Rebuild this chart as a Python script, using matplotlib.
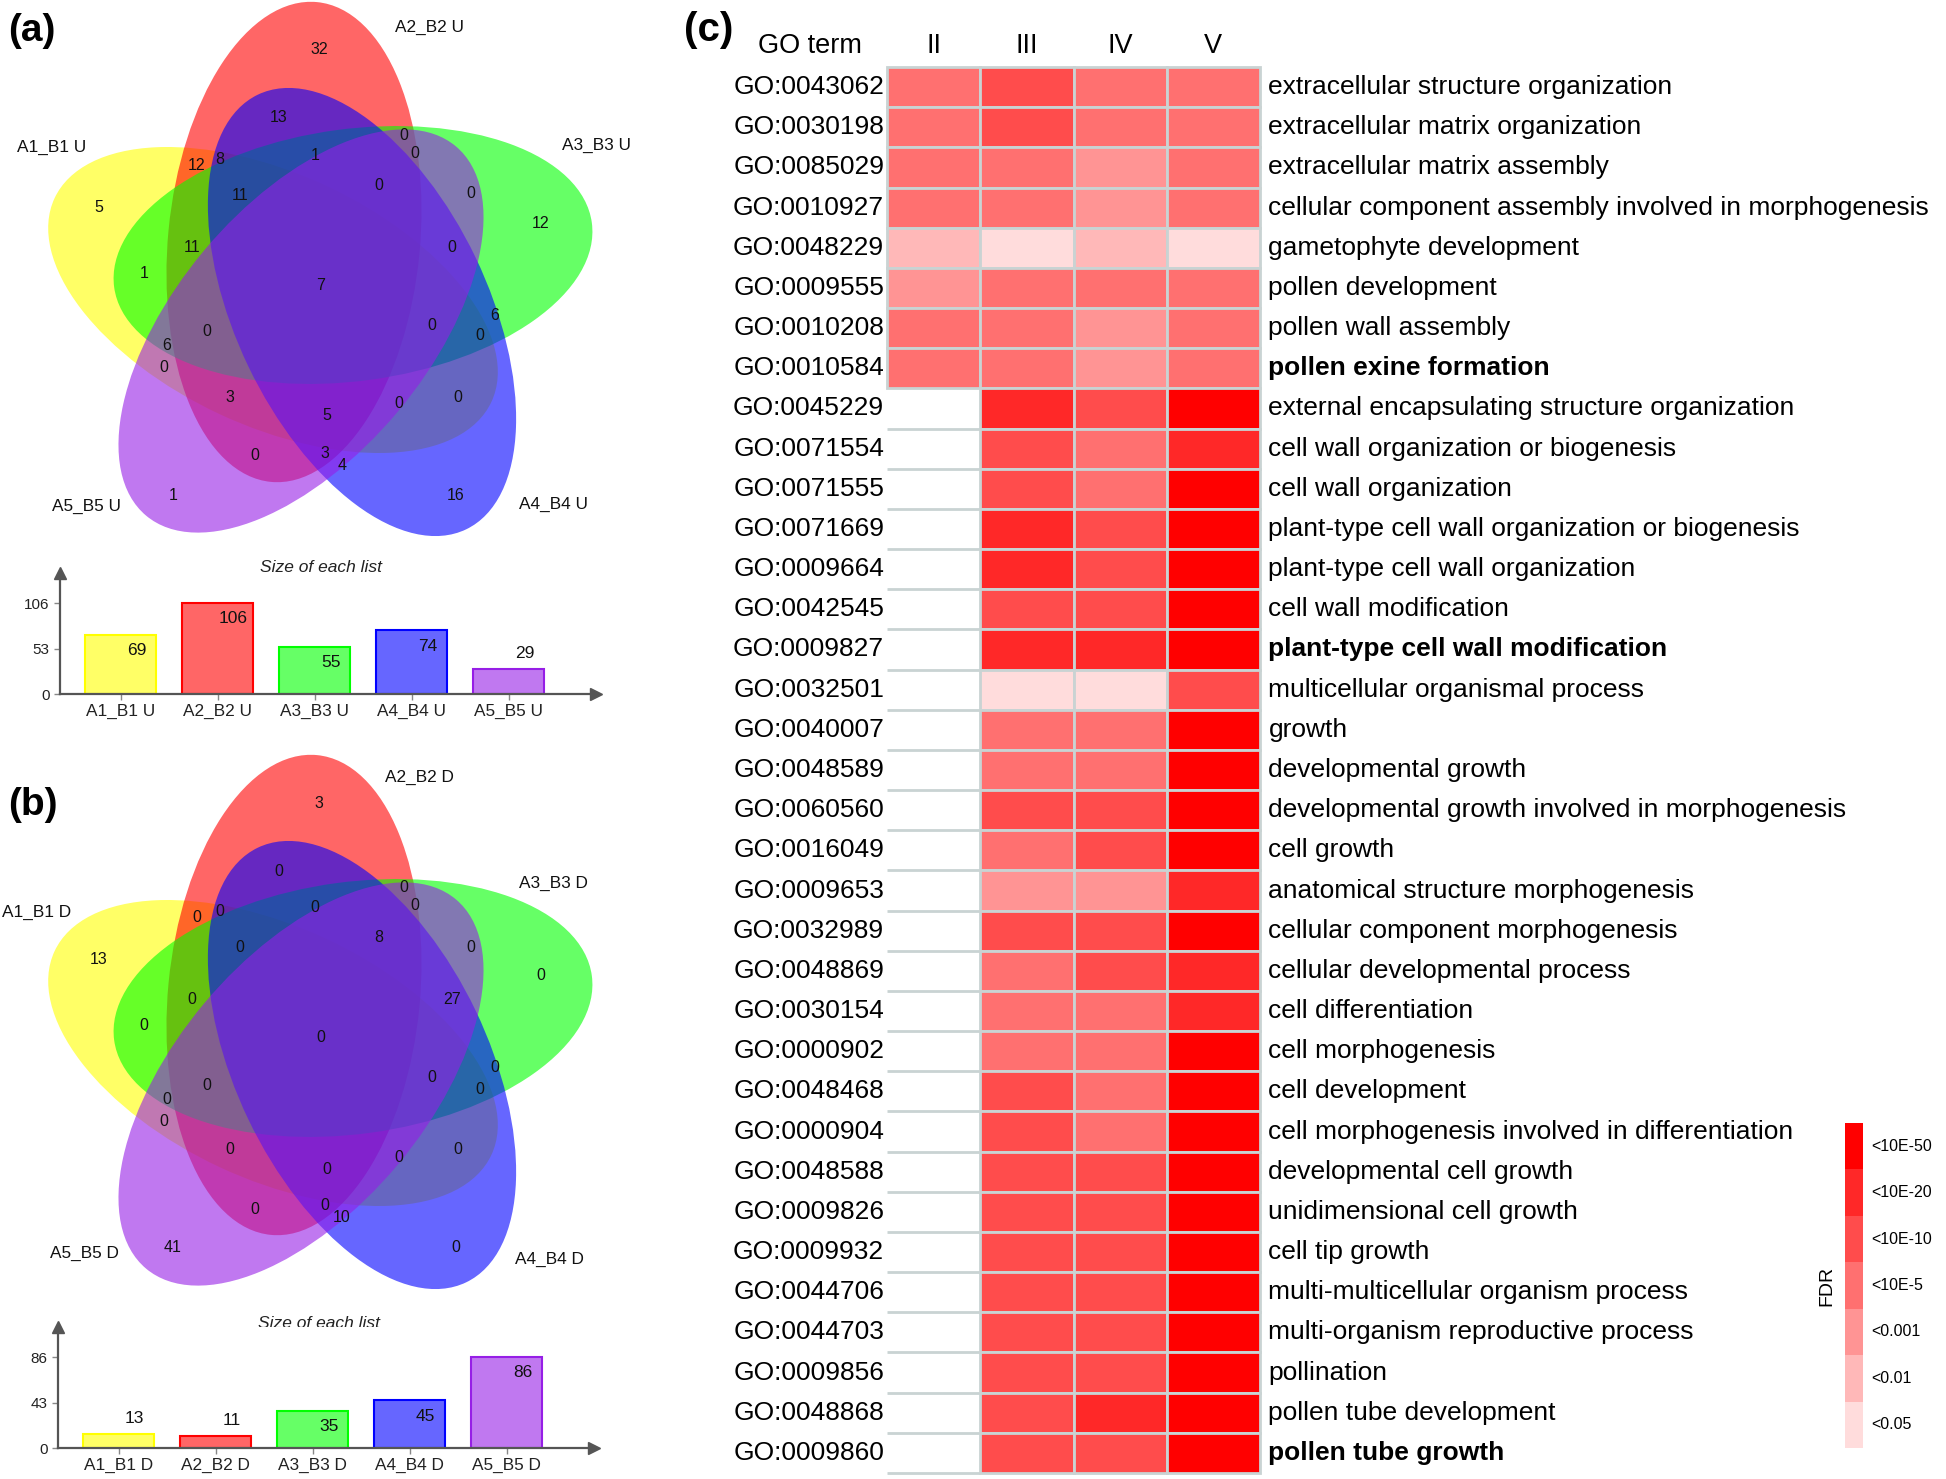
import matplotlib
matplotlib.use('Agg')
import matplotlib.pyplot as plt
from matplotlib.patches import Ellipse, Rectangle
import numpy as np

# ---------------- DATA ----------------
venn_a_sets = ['A1_B1 U', 'A2_B2 U', 'A3_B3 U', 'A4_B4 U', 'A5_B5 U']
venn_b_sets = ['A1_B1 D', 'A2_B2 D', 'A3_B3 D', 'A4_B4 D', 'A5_B5 D']
# region counts (same region order for both diagrams)
venn_a_counts = [32, 13, 0, 1, 0, 12, 8, 11, 0, 0, 12, 5, 11, 0, 1, 7, 6, 0, 0, 0,
                 6, 0, 3, 5, 0, 0, 0, 3, 4, 1, 16]
venn_b_counts = [3, 0, 0, 0, 0, 0, 0, 0, 8, 0, 0, 13, 0, 27, 0, 0, 0, 0, 0, 0,
                 0, 0, 0, 0, 0, 0, 0, 0, 10, 41, 0]
size_a = [69, 106, 55, 74, 29]
size_b = [13, 11, 35, 45, 86]

go_ids = ['GO:0043062', 'GO:0030198', 'GO:0085029', 'GO:0010927', 'GO:0048229',
          'GO:0009555', 'GO:0010208', 'GO:0010584', 'GO:0045229', 'GO:0071554',
          'GO:0071555', 'GO:0071669', 'GO:0009664', 'GO:0042545', 'GO:0009827',
          'GO:0032501', 'GO:0040007', 'GO:0048589', 'GO:0060560', 'GO:0016049',
          'GO:0009653', 'GO:0032989', 'GO:0048869', 'GO:0030154', 'GO:0000902',
          'GO:0048468', 'GO:0000904', 'GO:0048588', 'GO:0009826', 'GO:0009932',
          'GO:0044706', 'GO:0044703', 'GO:0009856', 'GO:0048868', 'GO:0009860']
go_terms = ['extracellular structure organization', 'extracellular matrix organization',
            'extracellular matrix assembly',
            'cellular component assembly involved in morphogenesis',
            'gametophyte development', 'pollen development', 'pollen wall assembly',
            'pollen exine formation', 'external encapsulating structure organization',
            'cell wall organization or biogenesis', 'cell wall organization',
            'plant-type cell wall organization or biogenesis',
            'plant-type cell wall organization', 'cell wall modification',
            'plant-type cell wall modification', 'multicellular organismal process',
            'growth', 'developmental growth',
            'developmental growth involved in morphogenesis', 'cell growth',
            'anatomical structure morphogenesis', 'cellular component morphogenesis',
            'cellular developmental process', 'cell differentiation',
            'cell morphogenesis', 'cell development',
            'cell morphogenesis involved in differentiation', 'developmental cell growth',
            'unidimensional cell growth', 'cell tip growth',
            'multi-multicellular organism process', 'multi-organism reproductive process',
            'pollination', 'pollen tube development', 'pollen tube growth']
bold_terms = ['pollen exine formation', 'plant-type cell wall modification',
              'pollen tube growth']
stages = ['II', 'III', 'IV', 'V']
# FDR level: 0 = not significant, 1 = <0.05 ... 7 = <10E-50
fdr_level = [
    [4, 5, 4, 4], [4, 5, 4, 4], [4, 4, 3, 4], [4, 4, 3, 4], [2, 1, 2, 1],
    [3, 4, 4, 4], [4, 4, 3, 4], [4, 4, 3, 4], [0, 6, 5, 7], [0, 5, 4, 6],
    [0, 5, 4, 7], [0, 6, 5, 7], [0, 6, 5, 7], [0, 5, 5, 7], [0, 6, 6, 7],
    [0, 1, 1, 5], [0, 4, 4, 7], [0, 4, 4, 7], [0, 5, 5, 7], [0, 4, 5, 7],
    [0, 3, 3, 6], [0, 5, 5, 7], [0, 4, 5, 6], [0, 4, 4, 6], [0, 4, 4, 7],
    [0, 5, 4, 7], [0, 5, 4, 7], [0, 5, 5, 7], [0, 5, 5, 7], [0, 5, 5, 7],
    [0, 5, 5, 7], [0, 5, 5, 7], [0, 5, 5, 7], [0, 5, 6, 7], [0, 5, 5, 7]]
fdr_labels = ['<10E-50', '<10E-20', '<10E-10', '<10E-5', '<0.001', '<0.01', '<0.05']

# ---------------- STYLE / LAYOUT ----------------
W, H = 1946, 1479
plt.rcParams['font.family'] = ['Liberation Sans', 'DejaVu Sans']
level_colors = ['#FFFFFF', '#FFDCDC', '#FFB8B8', '#FF9494', '#FF7070',
                '#FF4C4C', '#FF2828', '#FF0000']
venn_colors = ['#FFFF00', '#FF0000', '#00FF00', '#0000FF', '#961EE6']
bar_fill = ['#FFFF66', '#FF6666', '#66FF66', '#6666FF', '#C078F0']
grid_col = '#C9D3D3'
axis_col = '#555555'

# ellipse geometry in pixels (cx, cy, visual angle of major axis)
A_SEMI, B_SEMI = 241, 126
ELLIPSES = [(273, 300, -25), (294, 242, 84.5), (353, 255, 7.7),
            (362, 312, 115.6), (301, 331, 50)]
REGION_POS = [(319, 50), (279, 118), (404, 135), (315, 155), (415, 153), (197, 165),
              (220, 159), (240, 195), (379, 185), (471, 194), (541, 223), (99, 207),
              (192, 247), (452, 247), (144, 273), (321, 285), (495, 315), (480, 336),
              (432, 325), (207, 332), (167, 346), (164, 368), (230, 397), (327, 416),
              (399, 404), (458, 397), (255, 456), (325, 453), (342, 465), (173, 495),
              (456, 495)]
LABELS_A_POS = [(17, 147), (395, 27), (562, 145), (519, 504), (52, 506)]
LABELS_B_POS = [(2, 912), (385, 777), (519, 883), (515, 1259), (50, 1253)]
DY_B = 753


def rect(x0, y0, x1, y1):
    return [x0 / W, 1 - y1 / H, (x1 - x0) / W, (y1 - y0) / H]


fig = plt.figure(figsize=(W / 100, H / 100), dpi=100)
bg = fig.add_axes([0, 0, 1, 1])
bg.set_xlim(0, W)
bg.set_ylim(H, 0)
bg.axis('off')


def draw_venn(dy, labels, label_pos, counts):
    for (cx, cy, ang), col in zip(ELLIPSES, venn_colors):
        bg.add_patch(Ellipse((cx, cy + dy), 2 * A_SEMI, 2 * B_SEMI, angle=-ang,
                             facecolor=col, alpha=0.6, edgecolor='none'))
    for (x, y), c in zip(REGION_POS, counts):
        bg.text(x, y + dy, str(c), ha='center', va='center', fontsize=11.5,
                color='#111111')
    for (x, y), lab in zip(label_pos, labels):
        bg.text(x, y, lab, ha='left', va='center', fontsize=12.4, color='#111111')


def draw_bars(px, cats, vals, title_y):
    ax = fig.add_axes(rect(*px))
    x = np.arange(len(cats))
    vmax = max(vals)
    ax.bar(x, vals, width=0.73, color=bar_fill, edgecolor=venn_colors, linewidth=1.5)
    ax.set_xlim(-0.624, 4.9)
    ax.set_ylim(0, vmax * 1.33)
    for s in ['top', 'right']:
        ax.spines[s].set_visible(False)
    for s in ['left', 'bottom']:
        ax.spines[s].set_color(axis_col)
        ax.spines[s].set_linewidth(1.6)
    ax.set_yticks([0, vmax / 2, vmax])
    ax.set_yticklabels(['0', str(int(vmax / 2)), str(vmax)], fontsize=11)
    ax.set_xticks(x)
    ax.set_xticklabels(cats, fontsize=12.4)
    ax.tick_params(axis='both', colors='#888888', length=4, width=1, labelcolor='#222222')
    ax.tick_params(axis='x', pad=3)
    ax.plot(0, 1, marker='^', color=axis_col, markersize=9, transform=ax.transAxes,
            clip_on=False)
    ax.plot(1, 0, marker='>', color=axis_col, markersize=9, transform=ax.transAxes,
            clip_on=False)
    for i, v in enumerate(vals):
        off = 11.5 if v / vmax < 0.3 else -11.5
        ax.annotate(str(v), (i, v), xytext=(11.5, off), textcoords='offset points',
                    ha='center', va='center', fontsize=12.5, color='#111111')
    cx = (px[0] + px[2]) / 2 - 7
    bg.text(cx, title_y, 'Size of each list', ha='center', va='center',
            fontsize=12.5, style='italic', color='#222222')


# panel (a)
bg.text(8, 31, '(a)', fontsize=28, fontweight='bold', ha='left', va='center')
draw_venn(0, venn_a_sets, LABELS_A_POS, venn_a_counts)
draw_bars((60, 573, 596, 694), venn_a_sets, size_a, 567)

# panel (b)
bg.text(8, 805, '(b)', fontsize=28, fontweight='bold', ha='left', va='center')
draw_venn(DY_B, venn_b_sets, LABELS_B_POS, venn_b_counts)
draw_bars((58, 1327, 594, 1448), venn_b_sets, size_b, 1323)

# panel (c) heatmap
bg.text(684, 30, '(c)', fontsize=29, fontweight='bold', ha='left', va='center')
hm = fig.add_axes(rect(887, 67, 1260, 1473))
n = len(go_ids)
hm.set_xlim(0, len(stages))
hm.set_ylim(n, 0)
hm.axis('off')
for i, row in enumerate(fdr_level):
    for j, lv in enumerate(row):
        if lv == 0:
            hm.plot([j, j + 1], [i + 1, i + 1], color=grid_col, lw=2,
                    solid_capstyle='butt', clip_on=False, zorder=1)
for i, row in enumerate(fdr_level):
    for j, lv in enumerate(row):
        if lv > 0:
            hm.add_patch(Rectangle((j, i), 1, 1, facecolor=level_colors[lv],
                                   edgecolor=grid_col, lw=2, clip_on=False, zorder=2))
for i, (gid, term) in enumerate(zip(go_ids, go_terms)):
    hm.text(-0.03, i + 0.5, gid, ha='right', va='center', fontsize=19)
    hm.text(4.09, i + 0.5, term, ha='left', va='center', fontsize=19,
            fontweight='bold' if term in bold_terms else 'normal')
for j, s in enumerate(stages):
    hm.text(j + 0.5, -0.52, s, ha='center', va='center', fontsize=19.5)
hm.text(-0.83, -0.52, 'GO term', ha='center', va='center', fontsize=19.5)

# colorbar legend
cb = fig.add_axes(rect(1845, 1123, 1863, 1448))
cb.set_xlim(0, 1)
cb.set_ylim(len(fdr_labels), 0)
cb.axis('off')
for k, lab in enumerate(fdr_labels):
    cb.add_patch(Rectangle((0, k), 1, 1, facecolor=level_colors[7 - k], edgecolor='none'))
    cb.text(1.45, k + 0.5, lab, ha='left', va='center', fontsize=11.5)
cb.text(-1.0, len(fdr_labels) / 2, 'FDR', rotation=90, ha='center', va='center',
        fontsize=14)

fig.savefig('out.png', dpi=100)
